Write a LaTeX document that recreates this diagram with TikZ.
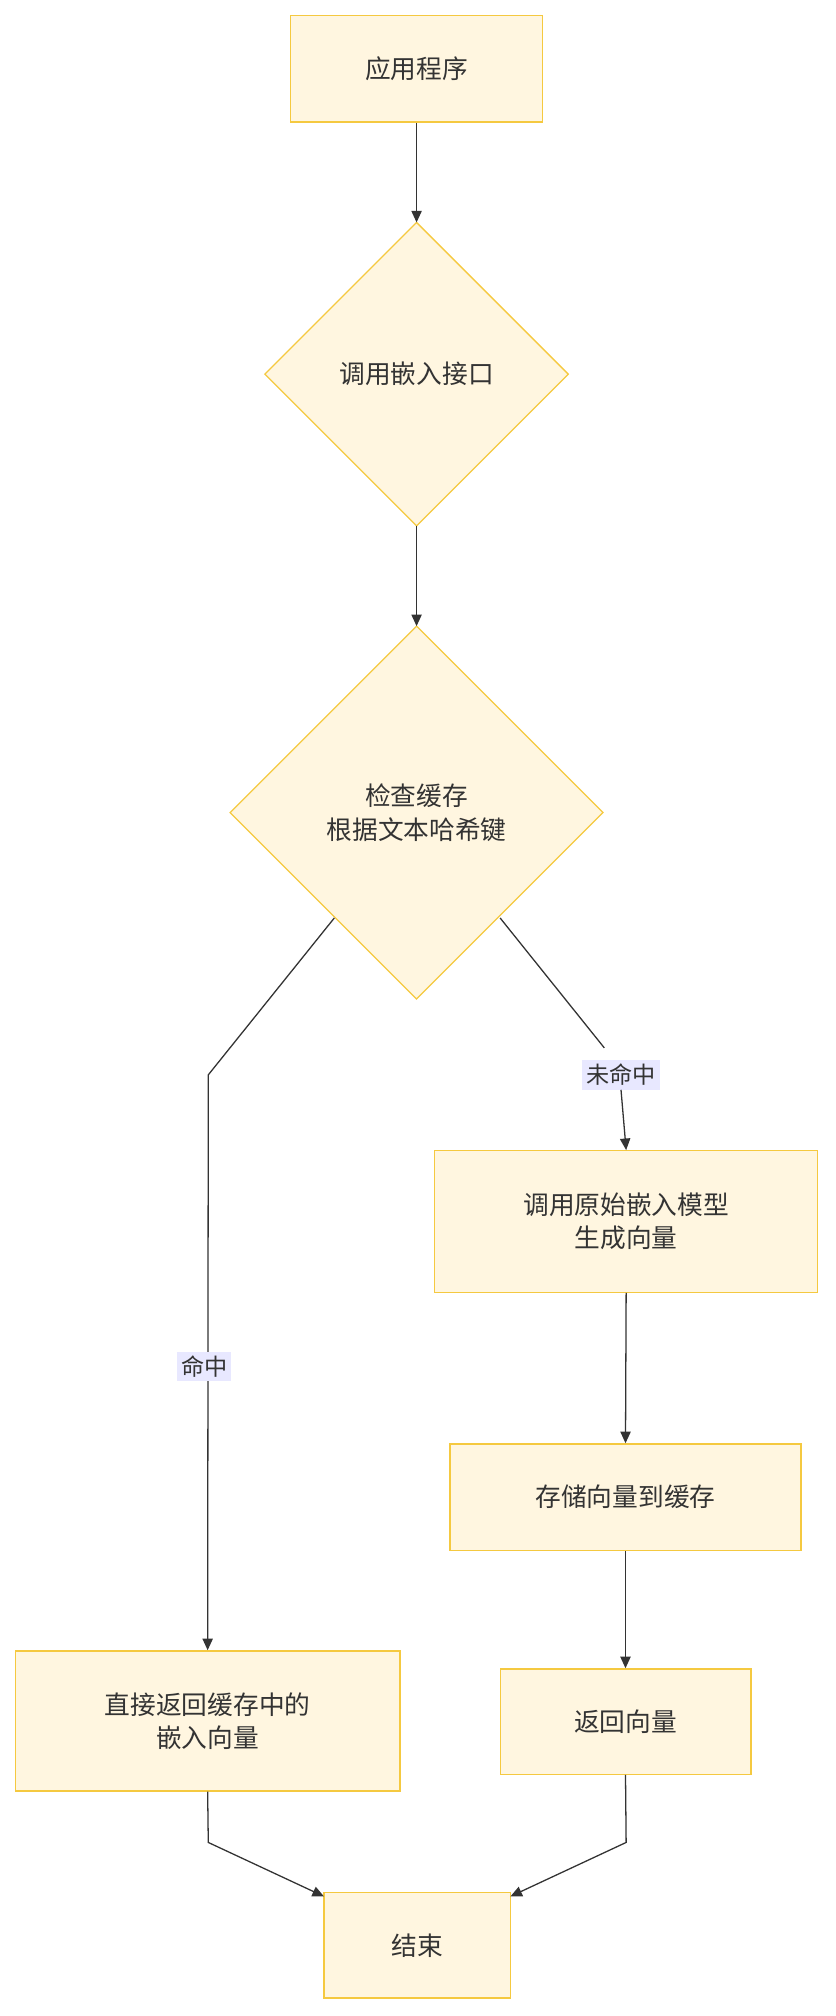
\documentclass[tikz,border=0pt]{standalone}
\usepackage{fontspec}
\setmainfont{Noto Sans CJK SC}
\usetikzlibrary{shapes.geometric,arrows.meta}
\definecolor{boxfill}{HTML}{FFF6E0}
\definecolor{boxline}{HTML}{F5C940}
\definecolor{lblbg}{HTML}{E8E8FF}
\definecolor{ink}{HTML}{333333}
\tikzset{
 flowbox/.style={draw=boxline,fill=boxfill,line width=1pt,inner sep=0pt,align=center,font=\fontsize{20}{26}\selectfont,text=ink},
 lbl/.style={fill=lblbg,inner sep=3pt,font=\fontsize{18}{22}\selectfont,text=ink},
 conn/.style={draw=ink,line width=1pt,-{Triangle[length=9pt,width=8pt]}},
 plain/.style={draw=ink,line width=1pt}
}
\begin{document}
\begin{tikzpicture}[x=1pt,y=-1pt]
\useasboundingbox (0,0) rectangle (650,1568);
\node[flowbox,minimum width=196pt,minimum height=83pt] (app) at (324,53.5) {应用程序};
\draw[draw=boxline,fill=boxfill,line width=1pt] (324,173) -- (442,291) -- (324,409) -- (206,291) -- cycle;
\node[flowbox,draw=none,fill=none] (call) at (324,291) {调用嵌入接口};
\coordinate (d1t) at (324,173); \coordinate (d1b) at (324,409);
\draw[draw=boxline,fill=boxfill,line width=1pt] (324,487) -- (469,632) -- (324,777) -- (179,632) -- cycle;
\node[flowbox,draw=none,fill=none] (check) at (324,632) {检查缓存\\根据文本哈希键};
\coordinate (d2t) at (324,487); \coordinate (d2l) at (260,714); \coordinate (d2r) at (389,714);
\node[flowbox,minimum width=298pt,minimum height=110pt] (gen) at (487,950) {调用原始嵌入模型\\生成向量};
\node[flowbox,minimum width=273pt,minimum height=83pt] (store) at (486.5,1164.5) {存储向量到缓存};
\node[flowbox,minimum width=195pt,minimum height=82pt] (ret) at (486.5,1339) {返回向量};
\node[flowbox,minimum width=299pt,minimum height=109pt] (hit) at (161.5,1338.5) {直接返回缓存中的\\嵌入向量};
\node[flowbox,minimum width=145pt,minimum height=82pt] (end) at (324.5,1513) {结束};
\draw[conn] (app.south) -- (d1t);
\draw[conn] (d1b) -- (d2t);
\coordinate (lk) at (162,836);
\draw[conn] (d2l) -- (lk) -- (hit.north);
\node[lbl] (lh) at (159,1063) {命中};
\coordinate (rk) at (487,836);
\draw[plain] (d2r) -- (470,815);
\node[lbl] (lm) at (483,836) {未命中};
\draw[conn] (lm.south) -- (gen.north);
\draw[conn] (gen.south) -- (store.north);
\draw[conn] (store.south) -- (ret.north);
\coordinate (lb) at (162,1433); \coordinate (rb) at (487,1433);
\draw[conn] (hit.south) -- (lb) -- (252,1475);
\draw[conn] (ret.south) -- (rb) -- (397,1475);
\end{tikzpicture}
\end{document}
